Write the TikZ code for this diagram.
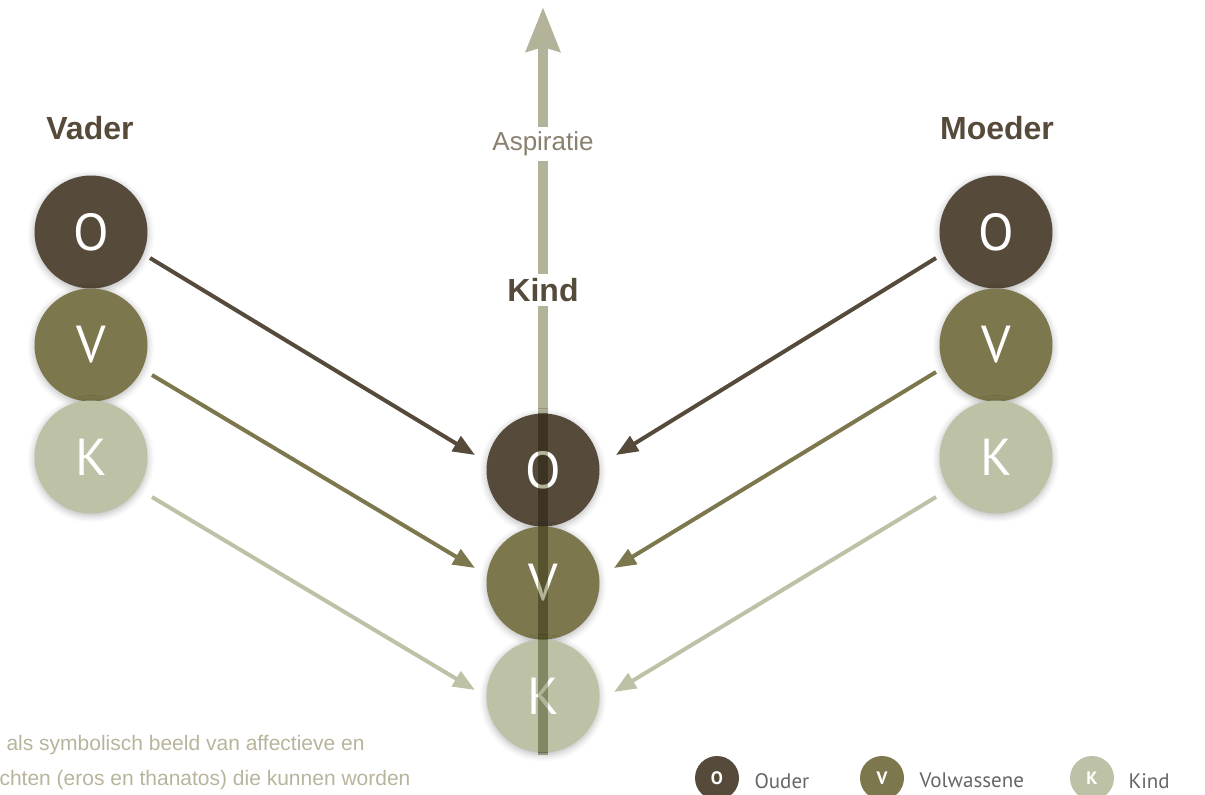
\documentclass[tikz,border=0pt]{standalone}
\usepackage{fontspec}
\setmainfont{Liberation Sans}
\newfontfamily\circfont{PT Sans}
\newfontfamily\legfont{PT Sans}
\usetikzlibrary{arrows.meta,shadows.blur}
\definecolor{cO}{HTML}{564A3B}
\definecolor{cV}{HTML}{7D774D}
\definecolor{cK}{HTML}{BDC1A5}
\definecolor{cLine}{HTML}{B3B39A}
\definecolor{cAsp}{HTML}{8A8070}
\definecolor{cTxt}{HTML}{B8B49C}
\definecolor{cLeg}{HTML}{666666}
\tikzset{
  bigc/.style={circle, minimum size=113pt, inner sep=0pt, text=white,
    font=\circfont\fontsize{52}{52}\selectfont,
    blur shadow={shadow xshift=0pt, shadow yshift=-2pt, shadow blur radius=7pt, shadow opacity=30}},
  smallc/.style={circle, minimum size=44pt, inner sep=0pt, text=white,
    font=\legfont\bfseries\fontsize{18}{18}\selectfont},
  head/.style={font=\bfseries\fontsize{32}{32}\selectfont, text=cO},
  arr/.style={line width=4pt, -{Triangle[length=22pt,width=17pt]}},
  leg/.style={anchor=west, text=cLeg, font=\legfont\fontsize{21}{21}\selectfont},
  body/.style={anchor=west, text=cTxt, font=\fontsize{21}{21}\selectfont},
  shaft/.style={cLine, line width=10pt},
}
\begin{document}
\begin{tikzpicture}[x=1pt,y=-1pt]
\useasboundingbox (0,0) rectangle (1205,795);
% central arrow (opaque part)
\coordinate (base) at (543,755);
\coordinate (top) at (543,7);
\draw[shaft, -{Triangle[length=44pt,width=33pt,inset=4pt]}] (base) -- (top);
% left column
\node[bigc, fill=cO] (LO) at (91,232) {O};
\node[bigc, fill=cV] (LV) at (91,345) {V};
\node[bigc, fill=cK] (LK) at (91,457) {K};
% right column
\node[bigc, fill=cO] (RO) at (996,232) {O};
\node[bigc, fill=cV] (RV) at (996,345) {V};
\node[bigc, fill=cK] (RK) at (996,457) {K};
% center column
\node[bigc, fill=cO] (CO) at (543,470) {O};
\node[bigc, fill=cV] (CV) at (543,583) {V};
\node[bigc, fill=cK] (CK) at (543,696) {K};
% shaft over the centre circles
\coordinate (s1) at (543,413);
\coordinate (s2) at (543,753);
\begin{scope}[blend mode=multiply]
\draw[shaft] (s1) -- (s2);
\end{scope}
% headings
\node[head] (vader) at (90,128) {Vader};
\node[head] (moeder) at (997,128) {Moeder};
\node[head, fill=white, inner sep=4pt] (kind) at (543,290) {Kind};
\node[fill=white, text=cAsp, inner sep=5pt, font=\fontsize{26}{26}\selectfont] (asp) at (543,144) {Aspiratie};
% connector endpoints
\coordinate (a1) at (150,258); \coordinate (b1) at (475,455);
\coordinate (a2) at (152,375); \coordinate (b2) at (475,568);
\coordinate (a3) at (152,497); \coordinate (b3) at (475,690);
\coordinate (a4) at (936,258); \coordinate (b4) at (616,455);
\coordinate (a5) at (936,372); \coordinate (b5) at (614,568);
\coordinate (a6) at (936,497); \coordinate (b6) at (614,692);
\draw[arr, cO] (a1) -- (b1);
\draw[arr, cV] (a2) -- (b2);
\draw[arr, cK] (a3) -- (b3);
\draw[arr, cO] (a4) -- (b4);
\draw[arr, cV] (a5) -- (b5);
\draw[arr, cK] (a6) -- (b6);
% body text
\node[body] (t1) at (3,745) {als symbolisch beeld van affectieve en};
\node[body] (t2) at (-4,780) {chten (eros en thanatos) die kunnen worden};
% legend
\node[smallc, fill=cO] (lo) at (717,778) {O};
\node[leg] (lol) at (751,781) {Ouder};
\node[smallc, fill=cV] (lv) at (882,778) {V};
\node[leg] (lvl) at (916,780) {Volwassene};
\node[smallc, fill=cK] (lk) at (1092,778) {K};
\node[leg] (lkl) at (1125,781) {Kind};
\end{tikzpicture}
\end{document}
